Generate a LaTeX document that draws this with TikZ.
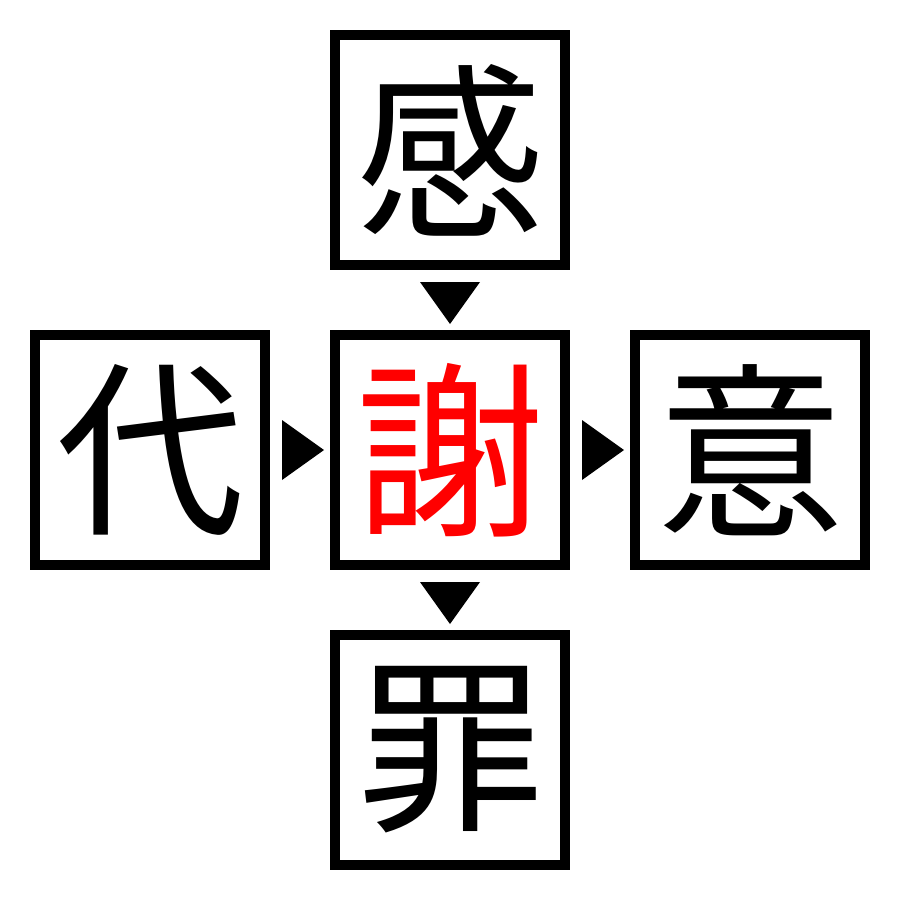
\documentclass[tikz,border=0pt]{standalone}
\usepackage{fontspec}
\usetikzlibrary{calc}
\newfontfamily\cjk{Noto Sans CJK JP}
\begin{document}
\begin{tikzpicture}[x=1pt,y=-1pt,
  kbox/.style={draw=black,line width=10pt,minimum size=230pt,inner sep=0pt,outer sep=0pt,fill=white,font=\cjk\fontsize{188}{188}\selectfont},
  tri/.style={fill=black,draw=none}]
\useasboundingbox (0,0) rectangle (900,900);
\fill[white] (0,0) rectangle (900,900);
\node[kbox] (top) at (450,150) {感};
\node[kbox] (left) at (150,450) {代};
\node[kbox,text=red] (center) at (450,450) {謝};
\node[kbox] (right) at (750,450) {意};
\node[kbox] (bottom) at (450,750) {罪};
\coordinate (a1) at ($(top.south)!0.5!(center.north)+(0,3)$);
\coordinate (a2) at ($(left.east)!0.5!(center.west)+(3,0)$);
\coordinate (a3) at ($(center.east)!0.5!(right.west)+(3,0)$);
\coordinate (a4) at ($(center.south)!0.5!(bottom.north)+(0,3)$);
\fill[tri] ($(a1)+(-30,-21)$) -- ($(a1)+(30,-21)$) -- ($(a1)+(0,21)$) -- cycle;
\fill[tri] ($(a2)+(-21,-30)$) -- ($(a2)+(-21,30)$) -- ($(a2)+(21,0)$) -- cycle;
\fill[tri] ($(a3)+(-21,-30)$) -- ($(a3)+(-21,30)$) -- ($(a3)+(21,0)$) -- cycle;
\fill[tri] ($(a4)+(-30,-21)$) -- ($(a4)+(30,-21)$) -- ($(a4)+(0,21)$) -- cycle;
\end{tikzpicture}
\end{document}
